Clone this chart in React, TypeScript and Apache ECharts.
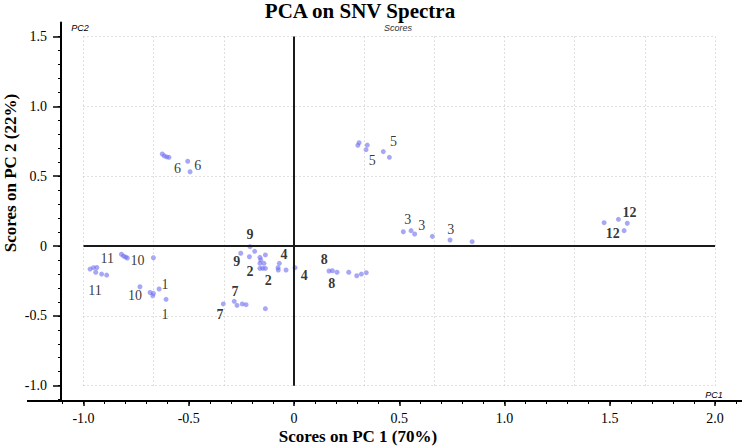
import React, { useEffect, useRef } from "react";
import * as echarts from "echarts";

// ---- data ----
const group11 = [[-0.969, -0.165], [-0.953, -0.155], [-0.942, -0.188], [-0.937, -0.154], [-0.914, -0.201], [-0.890, -0.208]];
const group10 = [[-0.820, -0.059], [-0.810, -0.072], [-0.800, -0.079], [-0.792, -0.086], [-0.668, -0.084], [-0.732, -0.292], [-0.684, -0.333], [-0.671, -0.356], [-0.668, -0.339]];
const group1 = [[-0.641, -0.308], [-0.608, -0.382]];
const group6 = [[-0.626, 0.659], [-0.616, 0.645], [-0.605, 0.638], [-0.594, 0.635], [-0.505, 0.607], [-0.494, 0.532]];
const group9and2 = [[-0.209, -0.005], [-0.253, -0.052], [-0.212, -0.077], [-0.187, -0.038], [-0.162, -0.081], [-0.158, -0.100], [-0.162, -0.124], [-0.136, -0.064], [-0.143, -0.124], [-0.162, -0.160], [-0.149, -0.160], [-0.136, -0.160]];
const group4 = [[-0.076, -0.155], [-0.070, -0.124], [-0.075, -0.172], [-0.038, -0.172], [0.005, -0.155]];
const group7 = [[-0.336, -0.415], [-0.284, -0.396], [-0.271, -0.425], [-0.246, -0.415], [-0.228, -0.420], [-0.136, -0.449]];
const group8 = [[0.166, -0.179], [0.182, -0.177], [0.204, -0.188], [0.260, -0.188], [0.298, -0.213], [0.320, -0.201], [0.343, -0.191]];
const group5 = [[0.309, 0.740], [0.303, 0.721], [0.348, 0.723], [0.342, 0.690], [0.424, 0.676], [0.453, 0.635]];
const group3 = [[0.519, 0.102], [0.556, 0.110], [0.573, 0.086], [0.657, 0.069], [0.741, 0.043], [0.846, 0.031]];
const group12 = [[1.473, 0.167], [1.541, 0.191], [1.583, 0.163], [1.568, 0.110]];

const sampleLabels: [string, number, number][] = [
  ["1", -0.613, -0.279], ["1", -0.613, -0.487],
  ["2", -0.209, -0.184], ["2", -0.122, -0.244],
  ["3", 0.540, 0.191], ["3", 0.607, 0.148], ["3", 0.744, 0.120],
  ["4", -0.048, -0.064], ["4", 0.048, -0.208],
  ["5", 0.472, 0.747], ["5", 0.372, 0.611],
  ["6", -0.554, 0.557], ["6", -0.457, 0.575],
  ["7", -0.280, -0.327], ["7", -0.352, -0.489],
  ["8", 0.143, -0.100], ["8", 0.179, -0.267],
  ["9", -0.209, 0.086], ["9", -0.272, -0.112],
  ["10", -0.744, -0.105], ["10", -0.755, -0.358],
  ["11", -0.887, -0.090], ["11", -0.945, -0.320],
  ["12", 1.593, 0.239], ["12", 1.514, 0.093],
];

const xMajorTicks = [-1, -0.5, 0, 0.5, 1, 1.5, 2];
const yMajorTicks = [-1, -0.5, 0, 0.5, 1, 1.5];
const xGridValues = [-1, -2 / 3, -1 / 3, 0, 1 / 3, 2 / 3, 1, 4 / 3, 5 / 3, 2];
const yGridValues = [-1, -0.5, 0, 0.5, 1, 1.5];

const X_MIN = -1.107, X_MAX = 2.128, Y_MIN = -1.11, Y_MAX = 1.6;
const GRID_X0 = -1, GRID_X1 = 2, GRID_Y0 = -1, GRID_Y1 = 1.5;

const minorTicks = (a: number, b: number) => {
  const out: number[] = [];
  for (let i = Math.round(a * 10); i <= Math.round(b * 10); i++) out.push(i / 10);
  return out;
};

const boldLabels = new Set(["2", "4", "7", "8", "9", "12"]);
const SERIF = '"Liberation Serif", "Times New Roman", serif';
const SANS = '"Liberation Sans", Arial, sans-serif';

export default function App() {
  const ref = useRef<HTMLDivElement>(null);
  useEffect(() => {
    if (!ref.current) return;
    const chart = echarts.init(ref.current, undefined, { renderer: "svg" });
    const fmt = (v: number) => (Math.abs(v) < 1e-9 ? "0" : v.toFixed(1));
    const allPoints = [
      ...group11, ...group10, ...group1, ...group6, ...group9and2,
      ...group4, ...group7, ...group8, ...group5, ...group3, ...group12,
    ];
    const gridLines: any[] = [];
    xGridValues.forEach((x) => gridLines.push([{ coord: [x, GRID_Y0] }, { coord: [x, GRID_Y1] }]));
    yGridValues.forEach((y) => gridLines.push([{ coord: [GRID_X0, y] }, { coord: [GRID_X1, y] }]));

    const axisCommon = { type: "value", splitLine: { show: false } };
    chart.setOption({
      animation: false,
      backgroundColor: "#fff",
      grid: { left: 61, right: 0, top: 22.6, bottom: 47 },
      xAxis: [
        {
          ...axisCommon, min: X_MIN, max: X_MAX, position: "bottom",
          axisLine: { onZero: false, lineStyle: { color: "#000", width: 2 } },
          axisTick: { customValues: xMajorTicks, length: 5, lineStyle: { color: "#000", width: 1.5 } },
          axisLabel: { customValues: xMajorTicks, formatter: fmt, fontFamily: SERIF, fontSize: 14, color: "#000", margin: 10 },
        },
        {
          ...axisCommon, min: X_MIN, max: X_MAX, position: "bottom",
          axisLine: { show: false, onZero: false },
          axisTick: { customValues: minorTicks(-1.1, 2.1), length: 3, lineStyle: { color: "#000", width: 1 } },
          axisLabel: { show: false },
        },
      ],
      yAxis: [
        {
          ...axisCommon, min: Y_MIN, max: Y_MAX, position: "left",
          axisLine: { onZero: false, lineStyle: { color: "#000", width: 2 } },
          axisTick: { customValues: yMajorTicks, length: 8, lineStyle: { color: "#000", width: 1.5 } },
          axisLabel: { customValues: yMajorTicks, formatter: fmt, fontFamily: SERIF, fontSize: 14, color: "#000", margin: 14 },
        },
        {
          ...axisCommon, min: Y_MIN, max: Y_MAX, position: "left",
          axisLine: { show: false, onZero: false },
          axisTick: { customValues: minorTicks(-1.1, 1.5), length: 3, lineStyle: { color: "#000", width: 1 } },
          axisLabel: { show: false },
        },
      ],
      series: [
        {
          type: "scatter",
          xAxisIndex: 0, yAxisIndex: 0,
          data: [],
          silent: true,
          z: 1,
          markLine: {
            silent: true, symbol: "none", label: { show: false },
            lineStyle: { color: "#c0c0c0", width: 1, type: [1, 3] },
            data: gridLines,
          },
        },
        {
          type: "scatter",
          xAxisIndex: 0, yAxisIndex: 0,
          data: [],
          silent: true,
          z: 2,
          markLine: {
            silent: true, symbol: "none", label: { show: false },
            lineStyle: { color: "#1a1a1a", width: 2, type: "solid" },
            data: [
              [{ coord: [0, GRID_Y0] }, { coord: [0, GRID_Y1] }],
              [{ coord: [GRID_X0, 0] }, { coord: [GRID_X1, 0] }],
            ],
          },
        },
        {
          type: "scatter",
          xAxisIndex: 0, yAxisIndex: 0,
          z: 3,
          symbolSize: 5,
          itemStyle: { color: "#6d6df0", opacity: 0.6 },
          data: allPoints,
        },
        {
          type: "scatter",
          xAxisIndex: 0, yAxisIndex: 0,
          z: 4,
          symbolSize: 1,
          itemStyle: { color: "rgba(0,0,0,0)" },
          label: {
            show: true, position: "inside", formatter: "{b}", color: "#000",
            fontFamily: SERIF, fontSize: 14, textBorderWidth: 0, textBorderColor: "transparent",
          },
          data: sampleLabels.map(([t, x, y]) => ({
            name: t, value: [x, y],
            label: { fontWeight: boldLabels.has(t) ? "bold" : "normal" },
          })),
        },
      ],
      graphic: [
        { type: "line", shape: { x1: 27, y1: 401, x2: 61, y2: 401 }, style: { stroke: "#000", lineWidth: 2 } },
        {
          type: "text", x: 360, y: 11,
          style: { text: "PCA on SNV Spectra", font: `bold 21px ${SERIF}`, fill: "#000", textAlign: "center", textVerticalAlign: "middle", align: "center", verticalAlign: "middle" },
        },
        {
          type: "text", x: 358, y: 436,
          style: { text: "Scores on PC 1 (70%)", font: `bold 17px ${SERIF}`, fill: "#000", textAlign: "center", textVerticalAlign: "middle", align: "center", verticalAlign: "middle" },
        },
        {
          type: "text", x: 10, y: 173, rotation: Math.PI / 2,
          style: { text: "Scores on PC 2 (22%)", font: `bold 17px ${SERIF}`, fill: "#000", textAlign: "center", textVerticalAlign: "middle", align: "center", verticalAlign: "middle" },
        },
        {
          type: "text", x: 398, y: 28,
          style: { text: "Scores", font: `italic 9px ${SANS}`, fill: "#333", textAlign: "center", textVerticalAlign: "middle", align: "center", verticalAlign: "middle" },
        },
        {
          type: "text", x: 80, y: 28,
          style: { text: "PC2", font: `italic 9px ${SANS}`, fill: "#000", textAlign: "center", textVerticalAlign: "middle", align: "center", verticalAlign: "middle" },
        },
        {
          type: "text", x: 714, y: 395,
          style: { text: "PC1", font: `italic 9px ${SANS}`, fill: "#000", textAlign: "center", textVerticalAlign: "middle", align: "center", verticalAlign: "middle" },
        },
      ],
    });
    return () => chart.dispose();
  }, []);
  return (
    <div
      ref={ref}
      style={{ position: "absolute", left: 0, top: 0, width: 742, height: 448, background: "#fff" }}
    />
  );
}
